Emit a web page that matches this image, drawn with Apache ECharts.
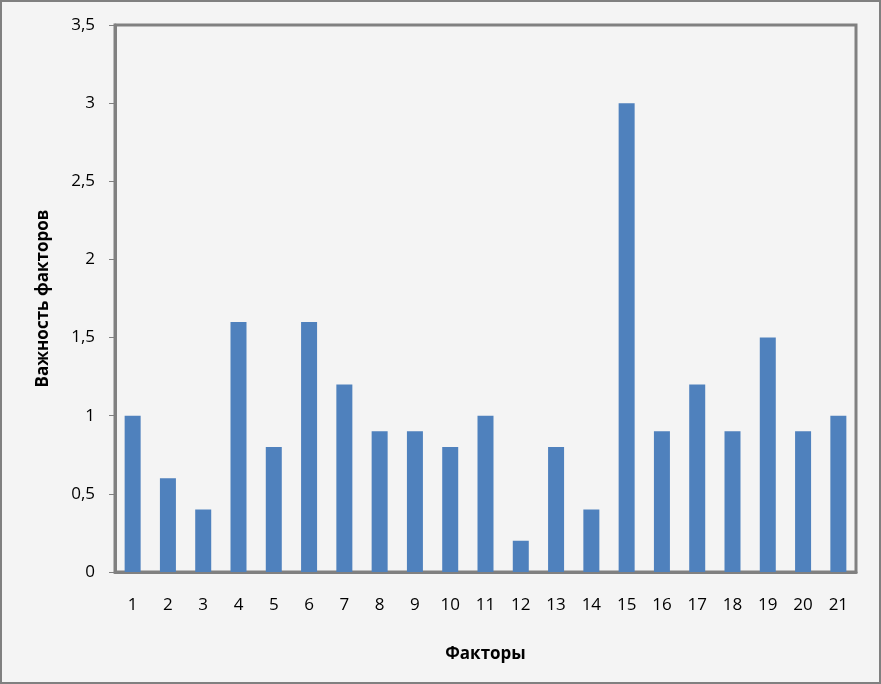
<!DOCTYPE html>
<html><head><meta charset="utf-8">
<script src="https://cdn.jsdelivr.net/npm/echarts@6/dist/echarts.min.js"></script>
<style>html,body{margin:0;padding:0;background:#f4f4f4}#c{width:881px;height:684px}</style>
</head><body><div id="c"></div>
<script>
const categories = ['1','2','3','4','5','6','7','8','9','10','11','12','13','14','15','16','17','18','19','20','21'];
const values = [1, 0.6, 0.4, 1.6, 0.8, 1.6, 1.2, 0.9, 0.9, 0.8, 1.0, 0.2, 0.8, 0.4, 3.0, 0.9, 1.2, 0.9, 1.5, 0.9, 1.0];
const yTicks = {min: 0, max: 3.5, interval: 0.5};
const xName = 'Факторы';
const yName = 'Важность факторов';

const chart = echarts.init(document.getElementById('c'));
const font = '"Open Sans", "Noto Sans", sans-serif';
chart.setOption({
  backgroundColor: '#f4f4f4',
  animation: false,
  textStyle: {fontFamily: font},
  graphic: [{type: 'rect', shape: {x: 1, y: 1, width: 879, height: 682}, style: {fill: 'none', stroke: '#808080', lineWidth: 2}, silent: true}],
  grid: {left: 115, right: 25, top: 25, bottom: 112, show: true, borderColor: '#808080', borderWidth: 3, backgroundColor: 'transparent'},
  xAxis: {
    type: 'category', data: categories,
    name: xName, nameLocation: 'middle', nameGap: 74,
    nameTextStyle: {fontWeight: 'bold', fontSize: 17, color: '#000', fontFamily: font},
    axisLine: {show: true, lineStyle: {color: '#808080', width: 3}},
    axisTick: {show: false},
    axisLabel: {color: '#000', fontSize: 17, margin: 25, fontFamily: font, interval: 0}
  },
  yAxis: {
    type: 'value', min: yTicks.min, max: yTicks.max, interval: yTicks.interval,
    name: yName, nameLocation: 'middle', nameGap: 63,
    nameTextStyle: {fontWeight: 'bold', fontSize: 17, color: '#000', fontFamily: font},
    axisLine: {show: true, lineStyle: {color: '#808080', width: 3}},
    axisTick: {show: true, length: 6, lineStyle: {color: '#808080', width: 1}},
    splitLine: {show: false},
    axisLabel: {color: '#000', fontSize: 17, margin: 20, fontFamily: font,
      formatter: v => String(v).replace('.', ',')}
  },
  series: [{type: 'bar', data: values, barWidth: 16, itemStyle: {color: '#4f81bd'}}]
});
</script></body></html>
